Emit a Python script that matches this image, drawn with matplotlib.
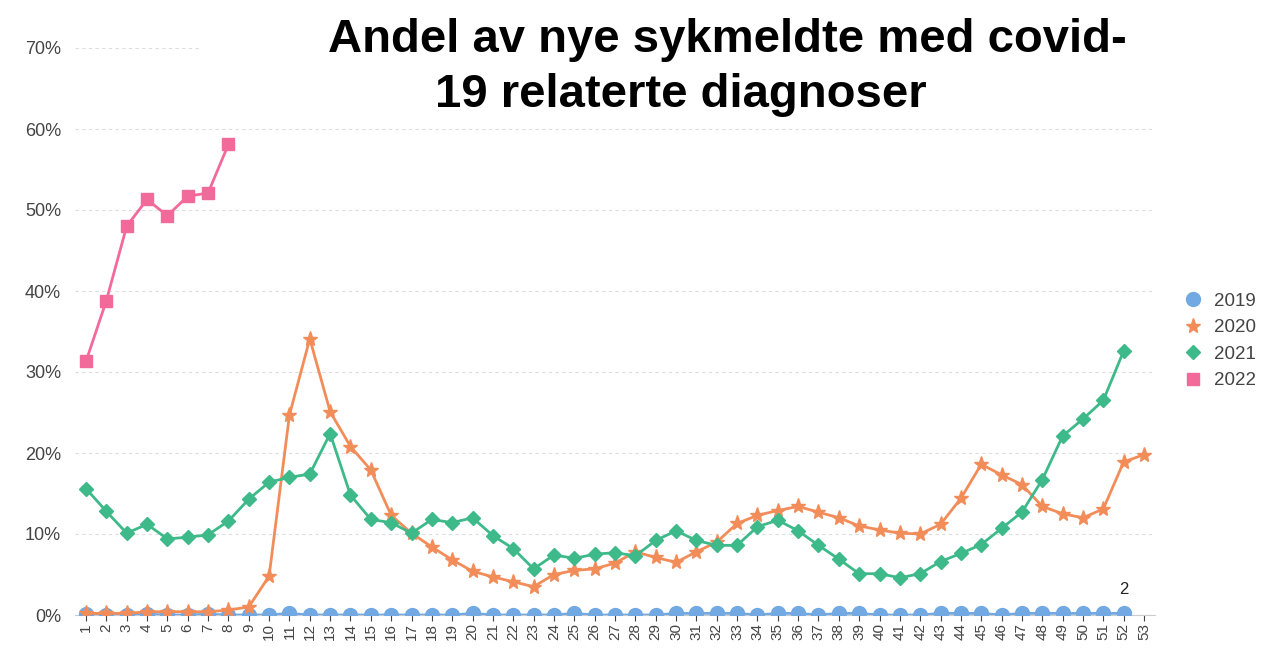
import matplotlib
matplotlib.use("Agg")
import matplotlib.pyplot as plt
from matplotlib.ticker import FuncFormatter
from matplotlib.patches import Rectangle

weeks = list(range(1, 54))

y2019 = [0.1, 0.0, 0.0, 0.1, 0.0, 0.0, 0.1, 0.0, 0.0, 0.0,
         0.2, 0.0, 0.0, 0.0, 0.0, 0.0, 0.0, 0.0, 0.0, 0.2,
         0.0, 0.0, 0.0, 0.0, 0.2, 0.0, 0.0, 0.0, 0.0, 0.2,
         0.2, 0.2, 0.2, 0.0, 0.2, 0.2, 0.0, 0.2, 0.2, 0.0,
         0.0, 0.0, 0.2, 0.2, 0.2, 0.0, 0.2, 0.2, 0.2, 0.2,
         0.2, 0.2]
y2020 = [0.2, 0.2, 0.2, 0.4, 0.4, 0.4, 0.4, 0.6, 1.0, 4.8,
         24.7, 34.1, 25.1, 20.8, 17.9, 12.3, 10.1, 8.4, 6.8, 5.4,
         4.7, 4.1, 3.5, 5.0, 5.5, 5.7, 6.4, 7.8, 7.1, 6.5,
         7.8, 9.0, 11.3, 12.3, 12.9, 13.4, 12.7, 12.0, 11.0, 10.5,
         10.1, 10.0, 11.2, 14.4, 18.6, 17.3, 16.1, 13.4, 12.5, 12.0,
         13.1, 18.9, 19.8]
y2021 = [15.6, 12.8, 10.1, 11.2, 9.4, 9.6, 9.9, 11.6, 14.3, 16.4,
         17.0, 17.4, 22.4, 14.8, 11.8, 11.4, 10.1, 11.8, 11.4, 12.0,
         9.8, 8.2, 5.7, 7.4, 7.0, 7.5, 7.7, 7.3, 9.2, 10.4,
         9.2, 8.6, 8.6, 10.9, 11.7, 10.4, 8.6, 6.9, 5.1, 5.1,
         4.6, 5.1, 6.6, 7.6, 8.7, 10.7, 12.7, 16.7, 22.1, 24.2,
         26.5, 32.6]
y2022 = [31.3, 38.8, 48.0, 51.3, 49.3, 51.7, 52.1, 58.1]

series_names = ["2019", "2020", "2021", "2022"]
series_vals = [y2019, y2020, y2021, y2022]
colors = ["#72A9E2", "#F28D5A", "#3DB98A", "#F16A9A"]
markers = ["o", "*", "D", "s"]
msizes = [10, 11, 7, 8.5]

title_line1 = "Andel av nye sykmeldte med covid-"
title_line2 = "19 relaterte diagnoser"
yticks = [0, 10, 20, 30, 40, 50, 60, 70]

plt.rcParams['font.family'] = ['Liberation Sans', 'DejaVu Sans']

fig = plt.figure(figsize=(12.65, 6.49), dpi=100)
ax = fig.add_axes([75/1265, 1-615/649, (1155-75)/1265, (615-48)/649])

for name, vals, c, m, ms in zip(series_names, series_vals, colors, markers, msizes):
    x = weeks[:len(vals)]
    ax.plot(x, vals, color=c, marker=m, markersize=ms, linewidth=2.0,
            markeredgecolor=c, label=name, zorder=3)

ax.set_xlim(0.46, 53.54)
ax.set_ylim(0, 70)
ax.set_yticks(yticks)
ax.yaxis.set_major_formatter(FuncFormatter(lambda v, p: f"{int(v)}%"))
ax.set_xticks(weeks)
ax.set_xticklabels([str(w) for w in weeks], rotation=90)
ax.tick_params(axis='x', labelsize=11, colors='#444444', length=4, width=0.8, pad=2)
ax.tick_params(axis='y', labelsize=13, colors='#444444', length=0, pad=10)
ax.grid(axis='y', linestyle=(0, (3, 3)), color='#DDDDDD', linewidth=0.8)
ax.set_axisbelow(True)
for s in ["top", "right", "left"]:
    ax.spines[s].set_visible(False)
ax.spines["bottom"].set_color("#CCCCCC")

ax.text(52, 2.2, "2", fontsize=12, color="#222222", ha="center", va="bottom")

# white title area covering part of the top gridline
fig.add_artist(Rectangle((200/1265, 1-115/649), (1160-200)/1265, 115/649,
                         transform=fig.transFigure, facecolor="white",
                         edgecolor="none", zorder=1))
fig.text(727/1265, 1-40/649, title_line1, ha="center", va="center", fontsize=34,
         fontweight="bold", color="black", zorder=2)
fig.text(681/1265, 1-95/649, title_line2, ha="center", va="center", fontsize=34,
         fontweight="bold", color="black", zorder=2)

leg = ax.legend(loc="center left", bbox_to_anchor=(1184/1265, 1-341/649),
                bbox_transform=fig.transFigure, frameon=False, fontsize=13.5,
                handlelength=1.0, handletextpad=0.6, labelspacing=0.5,
                borderpad=0, borderaxespad=0)
for t in leg.get_texts():
    t.set_color("#444444")
for h in leg.legend_handles:
    h.set_linestyle("None")

fig.savefig("out.png", dpi=100)
